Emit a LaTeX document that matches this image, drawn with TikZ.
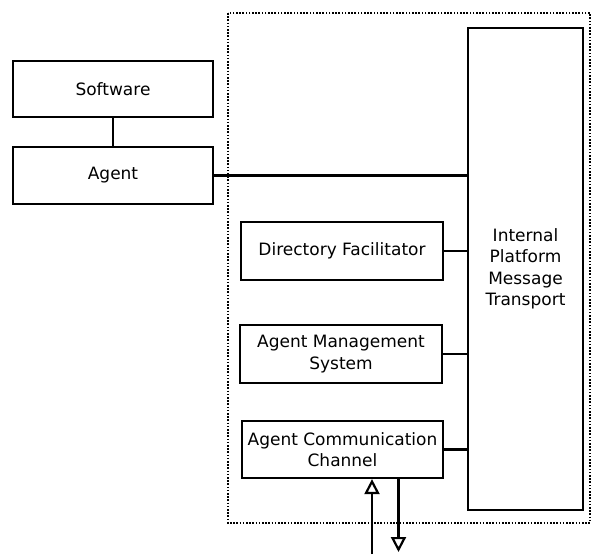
\documentclass[tikz,border=0pt]{standalone}
\usepackage{fontspec}
\setmainfont{DejaVu Sans}
\usetikzlibrary{arrows.meta}

\tikzset{
    block/.style={draw, line width=2.2pt, align=center, inner sep=0pt,
        font=\fontsize{17}{21.5}\selectfont},
    wire/.style={line width=2.2pt},
    flow/.style={line width=2.2pt, -{Triangle[open, width=15pt, length=15pt, line width=2.2pt]}}
}

\begin{document}
\begin{tikzpicture}[x=1pt, y=-1pt]
        \useasboundingbox (0,0) rectangle (594,554);

        % platform boundary
        \draw[line width=1.6pt, dash pattern=on 1.6pt off 1.6pt] (228,13) rectangle (590,523);

        \node[block, minimum width=200pt, minimum height=56pt] (soft) at (113,89) {Software};
        \node[block, minimum width=200pt, minimum height=57pt] (agent) at (113,175.5) {Agent};
        \node[block, minimum width=115pt, minimum height=482pt] (ipmt) at (525.5,269)
            {Internal\\Platform\\Message\\Transport};
        \node[block, minimum width=202pt, minimum height=58pt] (df) at (342,251) {Directory Facilitator};
        \node[block, minimum width=202pt, minimum height=58pt] (ams) at (341,354) {Agent Management\\System};
        \node[block, minimum width=201pt, minimum height=57pt] (acc) at (342.5,449.5) {Agent Communication\\Channel};

        \coordinate (in) at (372,554);
        \coordinate (out) at (398.5,552);

        \draw[wire] (soft) -- (agent);
        \draw[wire] (agent.east) -- (agent.east -| ipmt.west);
        \draw[wire] (df.east) -- (df.east -| ipmt.west);
        \draw[wire] (ams.east) -- (ams.east -| ipmt.west);
        \draw[wire] (acc.east) -- (acc.east -| ipmt.west);

        % messages in and out of the channel
        \draw[flow] (in) -- (in |- acc.south);
        \draw[flow] (out |- acc.south) -- (out);
    \end{tikzpicture}
\end{document}
